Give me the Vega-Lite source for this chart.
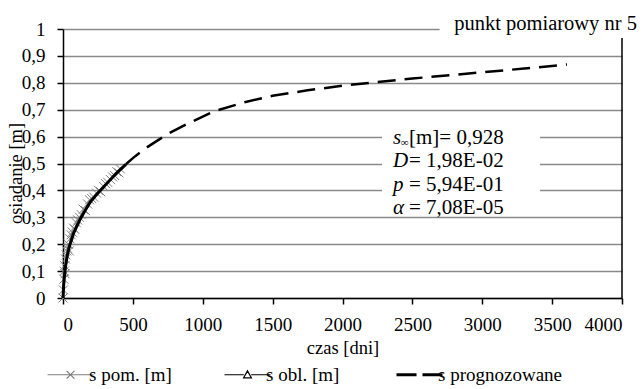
{
  "$schema": "https://vega.github.io/schema/vega-lite/v6.json",
  "width": 559,
  "height": 269,
  "autosize": {"type": "none"},
  "padding": {"left": 63, "top": 29, "right": 21, "bottom": 91},
  "background": "white",
  "config": {
    "font": "Liberation Serif",
    "view": {"stroke": null},
    "axis": {
      "domainColor": "black",
      "domainWidth": 1.5,
      "tickColor": "black",
      "tickWidth": 1.5,
      "tickSize": 6,
      "labelFont": "Liberation Serif",
      "labelFontSize": 19,
      "labelColor": "black",
      "labelOverlap": false,
      "titleFont": "Liberation Serif",
      "titleFontSize": 18.5,
      "titleFontWeight": "normal",
      "titleColor": "black",
      "gridColor": "#8a8a8a",
      "gridWidth": 1.5
    }
  },
  "datasets": {
    "pom": [
      {"t": 0, "s": 0}, {"t": 3, "s": 0.03}, {"t": 6, "s": 0.07}, {"t": 9, "s": 0.1},
      {"t": 12, "s": 0.12}, {"t": 15, "s": 0.09}, {"t": 18, "s": 0.145}, {"t": 22, "s": 0.16},
      {"t": 27, "s": 0.175}, {"t": 32, "s": 0.185}, {"t": 38, "s": 0.2}, {"t": 45, "s": 0.175},
      {"t": 50, "s": 0.22}, {"t": 58, "s": 0.235}, {"t": 66, "s": 0.245}, {"t": 75, "s": 0.26},
      {"t": 85, "s": 0.255}, {"t": 95, "s": 0.28}, {"t": 105, "s": 0.29}, {"t": 118, "s": 0.3},
      {"t": 130, "s": 0.31}, {"t": 145, "s": 0.33}, {"t": 160, "s": 0.325}, {"t": 175, "s": 0.35},
      {"t": 190, "s": 0.365}, {"t": 205, "s": 0.37}, {"t": 220, "s": 0.375}, {"t": 240, "s": 0.39},
      {"t": 255, "s": 0.4}, {"t": 270, "s": 0.395}, {"t": 290, "s": 0.415}, {"t": 305, "s": 0.425},
      {"t": 320, "s": 0.43}, {"t": 340, "s": 0.44}, {"t": 355, "s": 0.45}, {"t": 370, "s": 0.455},
      {"t": 385, "s": 0.47}, {"t": 400, "s": 0.465}, {"t": 410, "s": 0.48}
    ],
    "obl": [
      {"t": 0, "s": 0}, {"t": 5, "s": 0.05}, {"t": 10, "s": 0.08}, {"t": 20, "s": 0.125},
      {"t": 30, "s": 0.155}, {"t": 40, "s": 0.18}, {"t": 50, "s": 0.2}, {"t": 60, "s": 0.215},
      {"t": 75, "s": 0.24}, {"t": 100, "s": 0.268}, {"t": 125, "s": 0.295}, {"t": 150, "s": 0.318},
      {"t": 175, "s": 0.34}, {"t": 200, "s": 0.36}, {"t": 225, "s": 0.375}, {"t": 250, "s": 0.39},
      {"t": 275, "s": 0.404}, {"t": 300, "s": 0.418}, {"t": 325, "s": 0.432}, {"t": 350, "s": 0.446},
      {"t": 375, "s": 0.46}, {"t": 400, "s": 0.473}, {"t": 425, "s": 0.485}, {"t": 450, "s": 0.497}
    ],
    "prog": [
      {"t": 450, "s": 0.497}, {"t": 500, "s": 0.52}, {"t": 600, "s": 0.56}, {"t": 750, "s": 0.61},
      {"t": 900, "s": 0.65}, {"t": 1075, "s": 0.693}, {"t": 1300, "s": 0.728}, {"t": 1500, "s": 0.752},
      {"t": 1750, "s": 0.772}, {"t": 2000, "s": 0.789}, {"t": 2250, "s": 0.803}, {"t": 2500, "s": 0.816},
      {"t": 2790, "s": 0.829}, {"t": 3000, "s": 0.839}, {"t": 3300, "s": 0.853}, {"t": 3606, "s": 0.868}
    ],
    "one": [{"k": 1}]
  },
  "layer": [
    {
      "data": {"name": "pom"},
      "mark": {"type": "line", "strokeWidth": 1},
      "encoding": {
        "x": {
          "field": "t", "type": "quantitative",
          "scale": {"domain": [0, 4000], "nice": false},
          "axis": {
            "title": "czas [dni]",
            "values": [0, 500, 1000, 1500, 2000, 2500, 3000, 3500, 4000],
            "tickCount": 20,
            "format": "d",
            "grid": false,
            "labelPadding": 11,
            "titlePadding": 4
          }
        },
        "y": {
          "field": "s", "type": "quantitative",
          "scale": {"domain": [0, 1], "nice": false},
          "axis": {
            "title": "osiadanie [m]",
            "values": [0, 0.1, 0.2, 0.3, 0.4, 0.5, 0.6, 0.7, 0.8, 0.9, 1],
            "tickCount": 20,
            "format": ".1~f",
            "labelExpr": "replace(datum.label, '.', ',')",
            "grid": true,
            "labelPadding": 12,
            "titleX": -38,
            "titleY": 144
          }
        },
        "color": {
          "datum": "s pom. [m]",
          "type": "nominal",
          "scale": {
            "domain": ["s pom. [m]", "s obl. [m]", "s prognozowane"],
            "range": ["#808080", "#000000", "#000000"]
          },
          "legend": {
            "title": null,
            "orient": "none",
            "direction": "horizontal",
            "legendX": -2,
            "legendY": 336,
            "padding": 0,
            "symbolSize": 2116,
            "symbolStrokeWidth": 1.5,
            "labelFont": "Liberation Serif",
            "labelFontSize": 19,
            "labelColor": "black",
            "labelOffset": 9,
            "columnPadding": 50,
            "encode": {
              "symbols": {
                "update": {
                  "shape": {"signal": "datum.value === 's pom. [m]' ? 'M-1,0L1,0M-0.17,-0.17L0.17,0.17M-0.17,0.17L0.17,-0.17' : (datum.value === 's obl. [m]' ? 'M-1,0L-0.16,0M0.16,0L1,0M0,-0.17L0.17,0.14L-0.17,0.14Z' : 'M-1,0L-0.13,0M0.13,0L1,0')"},
                  "stroke": {"value": "black"},
                  "strokeDash": {"value": []},
                  "fill": {"value": "transparent"},
                  "strokeWidth": {"signal": "datum.value === 's prognozowane' ? 3 : 1.2"}
                }
              }
            }
          }
        }
      }
    },
    {
      "data": {"name": "pom"},
      "mark": {"type": "point", "shape": "M-1,-1L1,1M-1,1L1,-1", "filled": false, "stroke": "#808080", "strokeWidth": 1, "size": 81, "opacity": 1},
      "encoding": {
        "x": {"field": "t", "type": "quantitative"},
        "y": {"field": "s", "type": "quantitative"}
      }
    },
    {
      "data": {"name": "obl"},
      "mark": {"type": "line", "strokeWidth": 3},
      "encoding": {
        "x": {"field": "t", "type": "quantitative"},
        "y": {"field": "s", "type": "quantitative"},
        "color": {"datum": "s obl. [m]", "type": "nominal"}
      }
    },
    {
      "data": {"name": "prog"},
      "mark": {"type": "line", "strokeWidth": 2.5, "strokeDash": [18, 9]},
      "encoding": {
        "x": {"field": "t", "type": "quantitative"},
        "y": {"field": "s", "type": "quantitative"},
        "color": {"datum": "s prognozowane", "type": "nominal"}
      }
    },
    {
      "data": {"name": "one"},
      "mark": {"type": "rule", "color": "black", "strokeWidth": 1.5},
      "encoding": {
        "x": {"datum": 4000, "type": "quantitative"},
        "y": {"datum": 0, "type": "quantitative"},
        "y2": {"datum": 1}
      }
    },
    {
      "data": {"name": "one"},
      "mark": {"type": "rect", "fill": "white", "clip": false},
      "encoding": {
        "x": {"datum": 2283, "type": "quantitative"},
        "x2": {"datum": 3413},
        "y": {"datum": 0.34, "type": "quantitative"},
        "y2": {"datum": 0.63}
      }
    },
    {
      "data": {"name": "one"},
      "mark": {"type": "rect", "fill": "white", "clip": false},
      "encoding": {
        "x": {"datum": 2695, "type": "quantitative"},
        "x2": {"datum": 4300},
        "y": {"datum": 0.967, "type": "quantitative"},
        "y2": {"datum": 1.1}
      }
    },
    {
      "data": {"name": "one"},
      "mark": {"type": "text", "align": "right", "baseline": "middle", "fontSize": 20.5, "color": "black", "text": "punkt pomiarowy nr 5"},
      "encoding": {
        "x": {"datum": 4107, "type": "quantitative"},
        "y": {"datum": 1.018, "type": "quantitative"}
      }
    },
    {
      "data": {"name": "one"},
      "mark": {"type": "text", "align": "left", "baseline": "alphabetic", "fontStyle": "italic", "fontSize": 21, "lineHeight": 23.5, "color": "black", "text": ["s", "D", "p", "α"]},
      "encoding": {
        "x": {"datum": 2361, "type": "quantitative"},
        "y": {"datum": 0.574, "type": "quantitative"}
      }
    },
    {
      "data": {"name": "one"},
      "mark": {"type": "text", "align": "left", "baseline": "alphabetic", "fontSize": 11, "color": "black", "text": "∞"},
      "encoding": {
        "x": {"datum": 2417, "type": "quantitative"},
        "y": {"datum": 0.564, "type": "quantitative"}
      }
    },
    {
      "data": {"name": "one"},
      "mark": {"type": "text", "align": "left", "baseline": "alphabetic", "fontSize": 21, "lineHeight": 23.5, "color": "black", "text": [" [m]= 0,928", "= 1,98E-02", "= 5,94E-01", "= 7,08E-05"]},
      "encoding": {
        "x": {"datum": 2476, "type": "quantitative"},
        "y": {"datum": 0.574, "type": "quantitative"}
      }
    }
  ]
}
